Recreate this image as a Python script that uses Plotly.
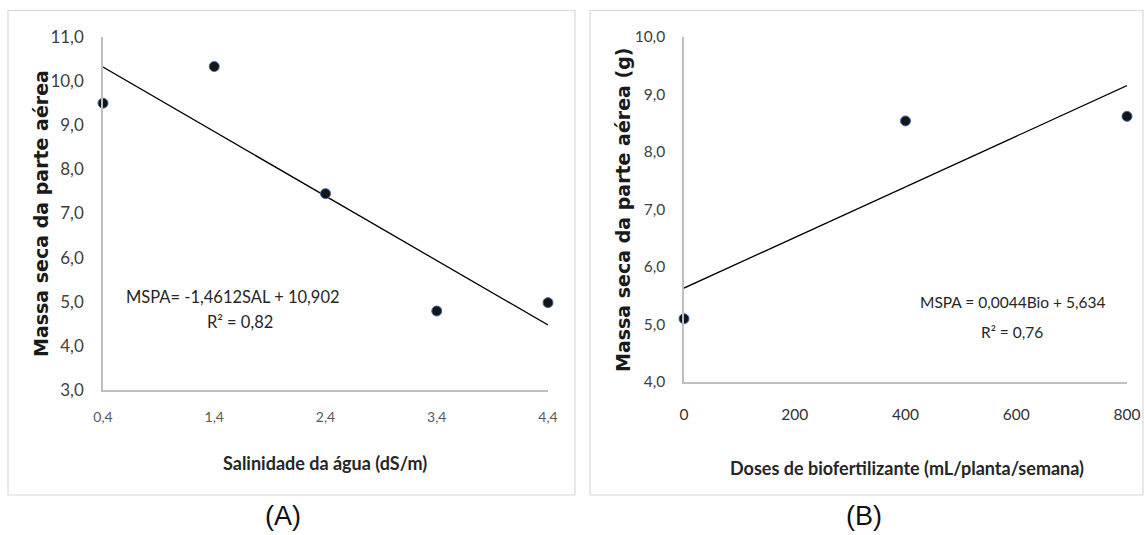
import plotly.graph_objects as go

W, H = 1144, 535

# ---- data: panel A (salinity) ----
sal = [0.4, 1.4, 2.4, 3.4, 4.4]
sal_ticktext = ["0,4", "1,4", "2,4", "3,4", "4,4"]
mspa_sal = [9.50, 10.33, 7.45, 4.79, 4.98]
sal_slope, sal_intercept = -1.4612, 10.902
sal_eq = "MSPA= -1,4612SAL + 10,902"
sal_r2 = "R² = 0,82"

# ---- data: panel B (biofertilizer) ----
bio = [0, 400, 800]
mspa_bio = [5.10, 8.54, 8.62]
bio_slope, bio_intercept = 0.0044, 5.634
bio_eq = "MSPA = 0,0044Bio + 5,634"
bio_r2 = "R² = 0,76"


def px(x):
    return x / W


def py(y):
    return 1 - y / H


CAL = "Lato, 'Open Sans', sans-serif"
marker = dict(size=10, color="#151515", line=dict(color="#3d6bb3", width=1))

fig = go.Figure()

# Panel A
sal_line_x = [sal[0], sal[-1]]
sal_line_y = [sal_slope * v + sal_intercept for v in sal_line_x]
fig.add_trace(go.Scatter(x=sal_line_x, y=sal_line_y, mode="lines",
                         line=dict(color="#000000", width=1.3),
                         xaxis="x", yaxis="y", hoverinfo="skip", cliponaxis=False))
fig.add_trace(go.Scatter(x=sal, y=mspa_sal, mode="markers", marker=marker,
                         xaxis="x", yaxis="y", cliponaxis=False))

# Panel B
bio_line_x = [bio[0], bio[-1]]
bio_line_y = [bio_slope * v + bio_intercept for v in bio_line_x]
fig.add_trace(go.Scatter(x=bio_line_x, y=bio_line_y, mode="lines",
                         line=dict(color="#000000", width=1.3),
                         xaxis="x2", yaxis="y2", hoverinfo="skip", cliponaxis=False))
fig.add_trace(go.Scatter(x=bio, y=mspa_bio, mode="markers", marker=marker,
                         xaxis="x2", yaxis="y2", cliponaxis=False))

axis_common = dict(showgrid=False, zeroline=False, showline=True, automargin=False,
                   linecolor="#bfbfbf", linewidth=1.5, ticks="outside",
                   tickcolor="rgba(0,0,0,0)")

fig.update_layout(
    width=W, height=H,
    margin=dict(l=0, r=0, t=0, b=0, autoexpand=False),
    paper_bgcolor="white", plot_bgcolor="white",
    showlegend=False,
    separators=",.",
    xaxis=dict(axis_common, domain=[px(103), px(548)], range=[0.4, 4.4],
               tickvals=sal, ticktext=sal_ticktext, ticklen=13,
               tickfont=dict(family=CAL, size=14, color="#595959"),
               anchor="y"),
    yaxis=dict(axis_common, domain=[py(390), py(37)], range=[3, 11],
               dtick=1, tickformat=".1f", ticklen=14,
               tickfont=dict(family=CAL, size=17, color="#404040"),
               anchor="x"),
    xaxis2=dict(axis_common, domain=[px(684), px(1127)], range=[0, 800],
                dtick=200, ticklen=18,
                tickfont=dict(family=CAL, size=15.5, color="#333333"),
                anchor="y2"),
    yaxis2=dict(axis_common, domain=[py(382), py(37)], range=[4, 10],
                dtick=1, tickformat=".1f", ticklen=14,
                tickfont=dict(family=CAL, size=15.5, color="#404040"),
                anchor="x2"),
)

# panel borders
for x0, x1 in [(8, 575), (590, 1143)]:
    fig.add_shape(type="rect", xref="paper", yref="paper",
                  x0=px(x0), x1=px(x1), y0=py(495), y1=py(10.5),
                  line=dict(color="#d9d9d9", width=1.2), fillcolor="rgba(0,0,0,0)")

ann = []
# axis titles
ann.append(dict(x=px(41), y=py(214), text="<b>Massa seca da parte aérea</b>",
                textangle=-90, font=dict(family="DejaVu Sans", size=19, color="#1a1a1a")))
ann.append(dict(x=px(623), y=py(210), text="<b>Massa seca da parte aérea (g)</b>",
                textangle=-90, font=dict(family="DejaVu Sans", size=19, color="#1a1a1a")))
ann.append(dict(x=px(325), y=py(463), text="<b>Salinidade da água (dS/m)</b>",
                font=dict(family=CAL, size=18, color="#262626")))
ann.append(dict(x=px(907), y=py(468), text="<b>Doses de biofertilizante (mL/planta/semana)</b>",
                font=dict(family=CAL, size=18, color="#262626")))
# equations
ann.append(dict(x=px(233), y=py(297), text=sal_eq, font=dict(family=CAL, size=16.5, color="#262626")))
ann.append(dict(x=px(240), y=py(322), text=sal_r2, font=dict(family=CAL, size=16.5, color="#262626")))
ann.append(dict(x=px(1012), y=py(302), text=bio_eq, font=dict(family=CAL, size=15.5, color="#262626")))
ann.append(dict(x=px(1012), y=py(332), text=bio_r2, font=dict(family=CAL, size=15.5, color="#262626")))
# panel labels
ann.append(dict(x=px(283), y=py(516), text="(A)", font=dict(family="Liberation Sans, Arial", size=27, color="#111111")))
ann.append(dict(x=px(864), y=py(516), text="(B)", font=dict(family="Liberation Sans, Arial", size=27, color="#111111")))

for a in ann:
    a.update(xref="paper", yref="paper", showarrow=False, xanchor="center", yanchor="middle")
fig.update_layout(annotations=ann)

fig.write_html("out.html")
